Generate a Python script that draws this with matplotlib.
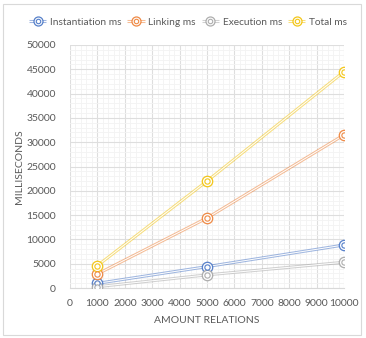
import matplotlib
matplotlib.use('Agg')
import matplotlib.pyplot as plt
from matplotlib.lines import Line2D
from matplotlib.patches import Rectangle
from matplotlib.ticker import MultipleLocator
from matplotlib.legend_handler import HandlerTuple

relations = [1000, 5000, 10000]
instantiation_ms = [960, 4400, 8850]
linking_ms = [2880, 14400, 31500]
execution_ms = [270, 2700, 5300]
total_ms = [4600, 22000, 44500]

series_names = ['Instantiation ms', 'Linking ms', 'Execution ms', 'Total ms']
series_values = [instantiation_ms, linking_ms, execution_ms, total_ms]
colors = ['#4472C4', '#ED7D31', '#A5A5A5', '#F2C000']

text_color = '#595959'
plt.rcParams['font.family'] = ['Lato', 'DejaVu Sans']

fig = plt.figure(figsize=(3.66, 3.38), dpi=100)
ax = fig.add_axes([70 / 366, 1 - 288 / 338, 274 / 366, 243 / 338])

# light chart border
fig.patches.append(Rectangle((3 / 366, 3 / 338), 358 / 366, 331 / 338,
                             transform=fig.transFigure, fill=False,
                             edgecolor='#d9d9d9', linewidth=0.8))


def double_line(c, ms_outer, ms_inner):
    return [dict(color=c, alpha=0.5, lw=2.2, solid_capstyle='butt'),
            dict(color='white', lw=0.7),
            dict(ls='none', marker='o', ms=ms_outer, mfc='white', mec=c, mew=0.9, alpha=0.9),
            dict(ls='none', marker='o', ms=ms_inner, mfc='white', mec=c, mew=0.8, alpha=0.9)]


handles = []
for name, vals, c in zip(series_names, series_values, colors):
    for z, kw in enumerate(double_line(c, 7.5, 3.8)):
        ax.plot(relations, vals, zorder=3 + z, **kw)
    handles.append(tuple(Line2D([], [], **kw) for kw in double_line(c, 6.5, 3.2)))

ax.set_xlim(0, 10000)
ax.set_ylim(0, 50000)
ax.xaxis.set_major_locator(MultipleLocator(1000))
ax.xaxis.set_minor_locator(MultipleLocator(200))
ax.yaxis.set_major_locator(MultipleLocator(5000))
ax.yaxis.set_minor_locator(MultipleLocator(1000))
ax.grid(which='major', color='#dedede', lw=0.8, zorder=1)
ax.grid(which='minor', color='#f3f3f3', lw=0.6, zorder=0)
ax.set_axisbelow(True)
for s in ax.spines.values():
    s.set_visible(False)
ax.spines['bottom'].set_visible(True)
ax.spines['bottom'].set_color('#d9d9d9')
ax.tick_params(which='both', length=0, colors=text_color, labelsize=7.5)
ax.tick_params(axis='x', pad=8)
ax.tick_params(axis='y', pad=10)

ax.set_xlabel('AMOUNT RELATIONS', color=text_color, fontsize=7.5, labelpad=6)
ax.set_ylabel('MILLISECONDS', color=text_color, fontsize=7.5, labelpad=2)

fig.legend(handles, series_names, loc='center', bbox_to_anchor=(188 / 366, 1 - 22 / 338),
           ncol=4, frameon=False, fontsize=7.3, labelcolor=text_color,
           handlelength=1.7, handletextpad=0.35, columnspacing=0.6,
           handler_map={tuple: HandlerTuple(ndivide=1)})

fig.savefig('out.png', dpi=100)
